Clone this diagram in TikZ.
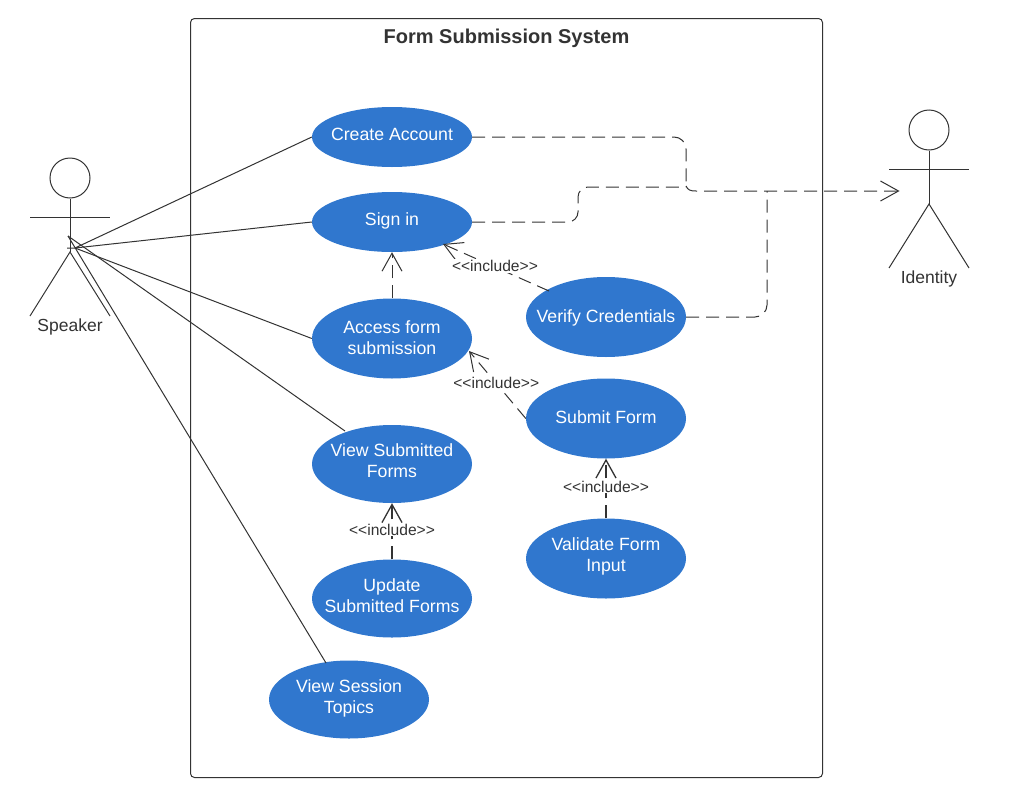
\documentclass[tikz,border=0pt]{standalone}
\usepackage{fontspec}
\setmainfont{Liberation Sans}
\usetikzlibrary{arrows.meta,shapes.geometric}
\definecolor{ink}{HTML}{333333}
\definecolor{uc}{HTML}{3077CE}
\newcommand{\inctext}{<\kern0pt<include>\kern0pt>}
\tikzset{
  usecase/.style={ellipse,fill=uc,inner sep=0pt,minimum width=160pt},
  uctext/.style={text=white,inner sep=0pt,align=center,font=\fontsize{17.7}{21.3}\selectfont},
  link/.style={draw=ink,line width=1pt},
  dep/.style={link,dash pattern=on 13pt off 7pt,-{Straight Barb[length=18pt,width=20pt,line width=1pt]}},
  depstrong/.style={dep,line width=1.6pt,-{Straight Barb[length=18pt,width=20pt,line width=1.3pt]}},
  depplain/.style={link,dash pattern=on 13pt off 7pt},
  inc/.style={fill=white,inner sep=1pt,text=ink,font=\fontsize{15.6}{18}\selectfont},
  actorname/.style={text=ink,inner sep=0pt,font=\fontsize{17.5}{21}\selectfont},
  head/.style={circle,draw=ink,line width=1pt,minimum size=40pt,inner sep=0pt},
}
\begin{document}
\begin{tikzpicture}[x=1pt,y=-1pt]
\useasboundingbox (0,0) rectangle (1009,806);
\node[draw=ink,line width=1pt,rounded corners=4pt,minimum width=632pt,minimum height=759pt,inner sep=0pt,anchor=north west] (sys) at (190,18) {};
\node[text=ink,inner sep=0pt,font=\fontsize{20}{24}\selectfont\bfseries] (title) at (506.5,38.5) {Form Submission System};

\node[usecase,minimum height=60pt] (create) at (392,137) {};
\node[uctext] (createt) at (392,134.5) {Create Account};
\node[usecase,minimum height=60pt] (signin) at (392,222) {};
\node[uctext] (signint) at (392,220.5) {Sign in};
\node[usecase,minimum height=80pt] (access) at (392,338.5) {};
\node[uctext] (accesst) at (392,337.5) {Access form\\submission};
\node[usecase,minimum height=78pt] (viewsub) at (392,464) {};
\node[uctext] (viewsubt) at (392,460.8) {View Submitted\\Forms};
\node[usecase,minimum height=78pt] (update) at (392,598.5) {};
\node[uctext] (updatet) at (392,595.5) {Update\\Submitted Forms};
\node[usecase,minimum height=78pt] (topics) at (349,699.5) {};
\node[uctext] (topicst) at (349,698.5) {View Session\\Topics};
\node[usecase,minimum height=80pt] (verify) at (606,317) {};
\node[uctext] (verifyt) at (606,317.5) {Verify Credentials};
\node[usecase,minimum height=80pt] (submit) at (606,418.5) {};
\node[uctext] (submitt) at (606,417.5) {Submit Form};
\node[usecase,minimum height=80pt] (validate) at (606,558.5) {};
\node[uctext] (validatet) at (606,556.5) {Validate Form\\Input};

% Speaker
\node[head] (shead) at (70,178) {};
\coordinate (shandl) at (30,217.5);
\coordinate (shandr) at (110,217.5);
\coordinate (ships) at (70,252);
\coordinate (sfootl) at (30,316);
\coordinate (sfootr) at (110,316);
\draw[link] (shead.south) -- (ships);
\draw[link] (shandl) -- (shandr);
\draw[link] (sfootl) -- (ships) -- (sfootr);
\node[actorname] (sname) at (70,327) {Speaker};
\coordinate (sa) at (75,248);
\coordinate (sb) at (67,248);
\coordinate (sc) at (68,236);
\draw[link] (sa) -- (create.west);
\draw[link] (sb) -- (sa) -- (signin.west);
\draw[link] (sa) -- (access.west);
\coordinate (vs) at (345,431);
\coordinate (tp) at (326,663);
\draw[link] (sc) -- (vs);
\draw[link] (sc) -- (tp);

% Identity
\node[head] (ihead) at (929,130) {};
\coordinate (ihandl) at (889,169.5);
\coordinate (ihandr) at (969,169.5);
\coordinate (ihips) at (929,204);
\coordinate (ifootl) at (889,268);
\coordinate (ifootr) at (969,268);
\draw[link] (ihead.south) -- (ihips);
\draw[link] (ihandl) -- (ihandr);
\draw[link] (ifootl) -- (ihips) -- (ifootr);
\node[actorname] (iname) at (929,279) {Identity};

% dependencies to Identity
\coordinate (itip) at (899.5,191);
\coordinate (c1) at (686,137);
\coordinate (c2) at (686,186);
\coordinate (c3) at (696,191);
\coordinate (d1) at (578,222);
\coordinate (d2) at (578,187);
\coordinate (d3) at (686,187);
\coordinate (e1) at (767,317);
\coordinate (e2) at (767,191);
\draw[depplain,rounded corners=12pt] (create.east) -- (c1) -- (c2);
\draw[dep] (c2) .. controls (688,190) and (690,191) .. (c3) -- (itip);
\draw[depplain,rounded corners=10pt] (signin.east) -- (d1) -- (d2) -- (d3);
\draw[depplain,rounded corners=12pt] (verify.east) -- (e1) -- (e2);

% includes
\coordinate (sv) at (549,291);
\coordinate (sg) at (443,244);
\coordinate (ac) at (469,351);
\draw[dep] (sv) -- node[inc,pos=0.51,yshift=1pt] (l1) {\inctext} (sg);
\draw[dep] (access.north) -- (signin.south);
\draw[dep] (submit.west) -- node[inc,pos=0.52] (l2) {\inctext} (ac);
\draw[depstrong] (validate.north) -- node[inc,pos=0.53] (l3) {\inctext} (submit.south);
\draw[depstrong] (update.north) -- node[inc,pos=0.53] (l4) {\inctext} (viewsub.south);
\end{tikzpicture}
\end{document}
